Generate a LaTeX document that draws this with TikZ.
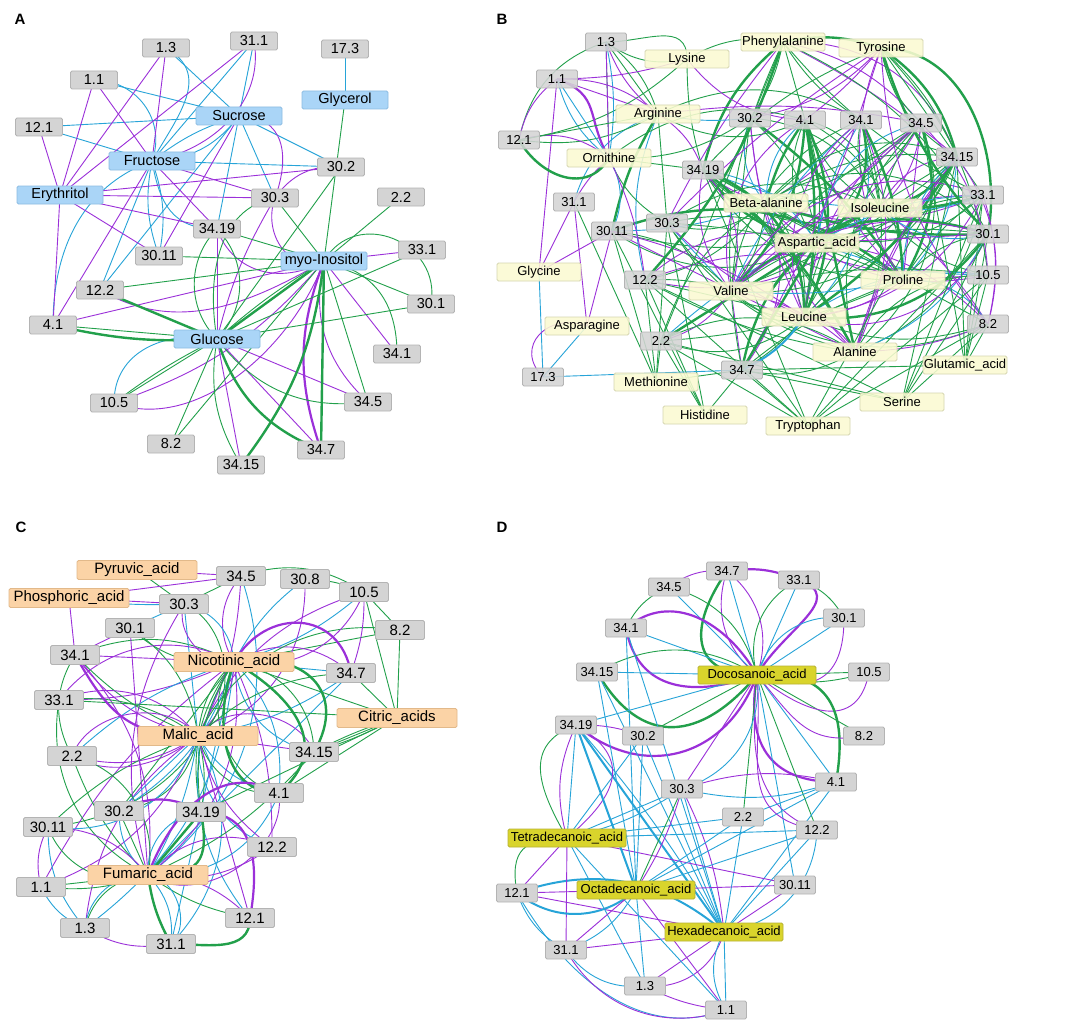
\documentclass[tikz,border=0pt]{standalone}
\usepackage{fontspec}
\setmainfont{Liberation Sans}
\pgfdeclarelayer{back}
\pgfdeclarelayer{bg}
\pgfsetlayers{back,bg,main}
\definecolor{cP}{HTML}{9B30D9}
\definecolor{cG}{HTML}{22A04B}
\definecolor{cB}{HTML}{27A4D8}
\definecolor{gF}{HTML}{D4D4D4}
\definecolor{gD}{HTML}{B4B4B4}
\definecolor{aF}{HTML}{AAD5F7}
\definecolor{aD}{HTML}{8DBDE3}
\definecolor{bF}{HTML}{FBFAD2}
\definecolor{bD}{HTML}{D6D6B0}
\definecolor{cF}{HTML}{FBD3A6}
\definecolor{cD}{HTML}{E2B98A}
\definecolor{dF}{HTML}{D9D42C}
\definecolor{dD}{HTML}{B7B234}
\tikzset{
 box/.style={rectangle, rounded corners=1.5pt, line width=0.8pt, inner sep=0pt, minimum height=18pt, text=black},
 numA/.style={box, fill=gF, draw=gD, minimum width=47pt, font=\fontsize{14.5}{16}\selectfont},
 molA/.style={box, fill=aF, draw=aD, minimum width=86pt, font=\fontsize{14.5}{16}\selectfont},
 numB/.style={box, fill=gF, draw=gD, fill opacity=0.88, text opacity=1, minimum width=41pt, font=\fontsize{13}{14}\selectfont},
 molB/.style={box, fill=bF, draw=bD, fill opacity=0.88, text opacity=1, minimum width=84pt, font=\fontsize{13}{14}\selectfont},
 numC/.style={box, fill=gF, draw=gD, minimum width=49pt, minimum height=19pt, font=\fontsize{15}{17}\selectfont},
 molC/.style={box, fill=cF, draw=cD, minimum width=120pt, minimum height=19pt, font=\fontsize{15}{17}\selectfont},
 numD/.style={box, fill=gF, draw=gD, minimum width=41pt, font=\fontsize{13}{14}\selectfont},
 molD/.style={box, fill=dF, draw=dD, minimum width=118pt, font=\fontsize{13}{14}\selectfont},
 plabel/.style={font=\bfseries\fontsize{15}{17}\selectfont, inner sep=0pt},
 eg/.style={draw=cG, line width=0.9pt},
 ep/.style={draw=cP, line width=0.9pt},
 eb/.style={draw=cB, line width=0.9pt},
 egt/.style={draw=cG, line width=2.4pt},
 ept/.style={draw=cP, line width=2.2pt},
 ebt/.style={draw=cB, line width=2pt},
 e0/.style={eg}, e1/.style={ep}, e2/.style={eb}, e3/.style={egt}, e4/.style={ept}, e5/.style={ebt},
}
\newcommand\edg[4]{\draw[#3] (#1.center) to[#4] (#2.center);}
\newcommand\edgk[4]{\edef\tmpcmd{\noexpand\draw[e#3] (#1.center) to[bend left=#4] (#2.center);}\tmpcmd}
\newcommand\fan[5]{\foreach \n [count=\i] in {#2}{\pgfmathtruncatemacro\cc{#4[mod(\i*3+#3,8)]}\pgfmathtruncatemacro\bb{(mod(\i*5+#3,7)-3)*#5}\edgk{#1}{\n}{\cc}{\bb}}}
\begin{document}
\begin{tikzpicture}[x=1pt,y=1pt]
\useasboundingbox (0,0) rectangle (1084,-1022);
\begin{pgfonlayer}{back}\fill[white] (0,0) rectangle (1084,-1022);\end{pgfonlayer}
% ---------------- Panel A ----------------
\node[plabel] (labA) at (20,-19) {A};
\node[numA] (a13) at (166,-48) {1.3};
\node[numA] (a311) at (254,-41) {31.1};
\node[numA] (a173) at (345,-49) {17.3};
\node[numA] (a11) at (94,-80) {1.1};
\node[molA] (aGly) at (345,-100) {Glycerol};
\node[molA] (aSuc) at (239,-116) {Sucrose};
\node[numA] (a121) at (39,-127) {12.1};
\node[molA] (aFru) at (152,-161) {Fructose};
\node[numA] (a302) at (341,-167) {30.2};
\node[molA] (aEry) at (60,-195) {Erythritol};
\node[numA] (a303) at (275,-198) {30.3};
\node[numA] (a22) at (401,-197) {2.2};
\node[numA] (a3419) at (217,-229) {34.19};
\node[numA] (a3011) at (159,-256) {30.11};
\node[molA] (aIno) at (324,-261) {myo-Inositol};
\node[numA] (a331) at (422,-250) {33.1};
\node[numA] (a122) at (100,-290) {12.2};
\node[numA] (a301) at (431,-304) {30.1};
\node[numA] (a41) at (53,-325) {4.1};
\node[molA] (aGlc) at (217,-339) {Glucose};
\node[numA] (a341) at (397,-354) {34.1};
\node[numA] (a105) at (114,-403) {10.5};
\node[numA] (a345) at (368,-402) {34.5};
\node[numA] (a82) at (171,-444) {8.2};
\node[numA] (a347) at (321,-450) {34.7};
\node[numA] (a3415) at (241,-465) {34.15};
\begin{pgfonlayer}{bg}
\edg{a11}{aSuc}{eb}{}
\edg{a11}{aFru}{eb}{out=0,in=70,looseness=1.1}
\edg{a13}{aSuc}{eb}{}
\edg{a13}{aFru}{eb}{out=-30,in=60,looseness=1.2}
\edg{a121}{aSuc}{eb}{}
\edg{a121}{aFru}{eb}{}
\edg{a311}{aSuc}{eb}{}
\edg{a311}{aFru}{eb}{}
\edg{aSuc}{aFru}{eb}{bend left=25}
\edg{aSuc}{aFru}{eb}{bend right=10}
\edg{aSuc}{a302}{eb}{}
\edg{aSuc}{a303}{eb}{}
\edg{aSuc}{a3419}{eb}{}
\edg{aSuc}{a122}{eb}{}
\edg{aFru}{a302}{eb}{}
\edg{aFru}{a3011}{eb}{bend left=15}
\edg{aFru}{a3011}{eb}{bend right=15}
\edg{aFru}{a122}{eb}{}
\edg{aFru}{a41}{eb}{out=200,in=90,looseness=1}
\edg{aFru}{a3419}{eb}{out=-80,in=180,looseness=1.2}
\edg{a105}{aGlc}{eb}{out=90,in=170,looseness=1.1}
\edg{a173}{aGly}{eb}{}
\edg{a121}{aEry}{ep}{}
\edg{a11}{aEry}{ep}{}
\edg{a11}{aFru}{ep}{}
\edg{a13}{aEry}{ep}{}
\edg{a13}{aFru}{ep}{}
\edg{a311}{aEry}{ep}{}
\edg{a311}{aFru}{ep}{out=-80,in=10,looseness=1}
\edg{aSuc}{a303}{ep}{out=0,in=70,looseness=1.3}
\edg{aSuc}{a3011}{ep}{}
\edg{aFru}{a41}{ep}{}
\edg{aEry}{a302}{ep}{}
\edg{aEry}{a303}{ep}{}
\edg{aEry}{a3419}{ep}{}
\edg{aEry}{a3011}{ep}{}
\edg{aEry}{a41}{ep}{}
\edg{aFru}{a303}{ep}{}
\edg{aFru}{a3419}{ep}{}
\edg{a302}{a303}{ep}{bend right=30}
\edg{a303}{aGlc}{ep}{bend right=8}
\edg{a303}{aIno}{ep}{out=-110,in=200,looseness=1.2}
\edg{a3419}{aGlc}{ep}{}
\edg{a3419}{aIno}{ep}{out=-70,in=210,looseness=1.1}
\edg{a331}{aIno}{ep}{}
\edg{a122}{aIno}{ep}{out=-30,in=210,looseness=1}
\edg{a41}{aIno}{ep}{}
\edg{a105}{aIno}{ep}{bend right=15}
\edg{a105}{aIno}{ep}{out=-20,in=250,looseness=0.9}
\edg{aGlc}{a345}{ep}{}
\edg{aGlc}{a347}{ep}{}
\edg{aGlc}{a3415}{ep}{}
\edg{aIno}{a341}{ep}{}
\edg{aIno}{a347}{ept}{bend right=20}
\edg{aIno}{a3415}{ep}{bend left=15}
\edg{aIno}{a345}{ep}{bend right=30}
\edg{aGly}{aIno}{eg}{}
\edg{a302}{aGlc}{eg}{}
\edg{a303}{aGlc}{eg}{out=190,in=100,looseness=1}
\edg{a303}{aIno}{eg}{}
\edg{a3419}{aIno}{eg}{}
\edg{a3011}{aIno}{eg}{}
\edg{a122}{aIno}{eg}{}
\edg{a122}{aGlc}{egt}{}
\edg{a41}{aGlc}{eg}{}
\edg{a41}{aGlc}{egt}{bend right=8}
\edg{a3419}{aGlc}{eg}{bend right=45}
\edg{a3419}{aGlc}{eg}{bend left=45}
\edg{a22}{aIno}{eg}{}
\edg{aIno}{a301}{eg}{out=60,in=80,looseness=1.4}
\edg{a331}{aGlc}{eg}{}
\edg{a301}{aGlc}{eg}{}
\edg{aIno}{a341}{eg}{out=-10,in=90,looseness=1.1}
\edg{aIno}{a301}{eg}{}
\edg{a105}{aGlc}{eg}{}
\edg{a105}{aGlc}{eg}{bend left=5}
\edg{a82}{aGlc}{eg}{}
\edg{a82}{aIno}{eg}{}
\edg{a3415}{aIno}{egt}{bend right=15}
\edg{a347}{aIno}{egt}{}
\edg{a347}{aGlc}{egt}{bend left=25}
\edg{a345}{aIno}{eg}{}
\edg{a345}{aGlc}{eg}{bend left=30}
\edg{aGlc}{aIno}{egt}{}
\edg{aGlc}{aIno}{eg}{bend left=5}
\edg{a3415}{aGlc}{eg}{bend left=20}
\end{pgfonlayer}
% ---------------- Panel B ----------------
\node[plabel] (labB) at (502,-19) {B};
\node[numB] (b13) at (606,-42) {1.3};
\node[numB] (b11) at (557,-79) {1.1};
\node[numB] (b121) at (519,-140) {12.1};
\node[numB] (b302) at (750,-118) {30.2};
\node[numB] (b41) at (805,-120) {4.1};
\node[numB] (b341) at (861,-120) {34.1};
\node[numB] (b345) at (921,-123) {34.5};
\node[numB] (b3415) at (957,-157) {34.15};
\node[numB] (b3419) at (703,-170) {34.19};
\node[numB] (b311) at (574,-202) {31.1};
\node[numB] (b331) at (983,-195) {33.1};
\node[numB] (b303) at (667,-223) {30.3};
\node[numB] (b3011) at (612,-231) {30.11};
\node[numB] (b301) at (988,-234) {30.1};
\node[numB] (b105) at (988,-275) {10.5};
\node[numB] (b122) at (645,-280) {12.2};
\node[numB] (b82) at (988,-324) {8.2};
\node[numB] (b22) at (661,-341) {2.2};
\node[numB] (b173) at (543,-377) {17.3};
\node[numB] (b347) at (742,-370) {34.7};
\node[molB] (bPhe) at (783,-42) {Phenylalanine};
\node[molB] (bTyr) at (881,-48) {Tyrosine};
\node[molB] (bLys) at (687,-59) {Lysine};
\node[molB] (bArg) at (658,-114) {Arginine};
\node[molB] (bOrn) at (609,-158) {Ornithine};
\node[molB] (bBal) at (766,-203) {Beta-alanine};
\node[molB] (bIle) at (880,-208) {Isoleucine};
\node[molB] (bAsp) at (817,-243) {Aspartic\_acid};
\node[molB] (bGlyc) at (539,-272) {Glycine};
\node[molB] (bPro) at (903,-280) {Proline};
\node[molB] (bVal) at (731,-291) {Valine};
\node[molB] (bLeu) at (804,-317) {Leucine};
\node[molB] (bAsn) at (587,-326) {Asparagine};
\node[molB] (bAla) at (855,-352) {Alanine};
\node[molB] (bGlu) at (965,-365) {Glutamic\_acid};
\node[molB] (bMet) at (656,-382) {Methionine};
\node[molB] (bSer) at (902,-402) {Serine};
\node[molB] (bHis) at (705,-415) {Histidine};
\node[molB] (bTrp) at (808,-426) {Tryptophan};
\begin{pgfonlayer}{bg}
\fan{bBal}{b302,b41,b341,b345,b3415,b3419,b331,b303,b3011,b301,b105,b122,b82,b22,b347}{1}{{0,0,1,0,2,0,1,3}}{10}
\fan{bIle}{b302,b41,b341,b345,b3415,b3419,b331,b303,b3011,b301,b105,b122,b82,b22,b347}{2}{{0,1,0,0,2,0,1,3}}{10}
\fan{bAsp}{b302,b41,b341,b345,b3415,b3419,b331,b303,b3011,b301,b105,b122,b82,b22,b347}{3}{{0,0,1,0,2,3,0,1}}{10}
\fan{bPro}{b302,b41,b341,b345,b3415,b3419,b331,b303,b3011,b301,b105,b122,b82,b22,b347}{4}{{1,0,0,2,0,1,0,3}}{10}
\fan{bVal}{b302,b41,b341,b345,b3415,b3419,b331,b303,b3011,b301,b105,b122,b82,b22,b347}{5}{{0,0,1,3,0,2,0,1}}{10}
\fan{bLeu}{b302,b41,b341,b345,b3415,b3419,b331,b303,b3011,b301,b105,b122,b82,b22,b347}{6}{{0,1,0,0,3,0,1,2}}{10}
\fan{bAla}{b302,b41,b341,b345,b3415,b3419,b331,b303,b3011,b301,b105,b122,b82,b22,b347}{7}{{0,0,1,0,0,2,1,0}}{10}
\fan{b41}{bBal,bIle,bAsp,bPro,bVal,bLeu,bAla}{3}{{3,0,1,0,0,3,2,1}}{12}
\fan{b341}{bBal,bIle,bAsp,bPro,bVal,bLeu,bAla}{5}{{0,3,1,0,2,0,3,1}}{12}
\fan{b345}{bBal,bIle,bAsp,bPro,bVal,bLeu,bAla}{6}{{1,0,3,0,0,1,3,2}}{12}
\fan{b3415}{bBal,bIle,bAsp,bPro,bVal,bLeu,bAla,bPhe,bTyr}{2}{{3,0,1,0,3,0,2,1}}{12}
\fan{b3419}{bBal,bIle,bAsp,bPro,bVal,bLeu,bAla}{4}{{0,3,0,1,0,2,3,1}}{12}
\fan{b331}{bBal,bIle,bAsp,bVal,bLeu}{1}{{1,0,2,1,0,1,0,2}}{14}
\fan{b301}{bBal,bIle,bAsp,bVal,bLeu}{2}{{2,1,0,1,2,0,1,0}}{14}
\fan{bPhe}{b3419,b302,b41,b341,b345,b3415,b303,b347,b122,b22,b331,b301}{2}{{0,1,0,0,1,3,0,1}}{6}
\fan{bTyr}{b3419,b302,b41,b341,b345,b3415,b331,b301,b105,b347,b303,b82}{3}{{0,1,0,3,1,0,0,1}}{6}
\fan{bArg}{b302,b41,b3419,b303,b122,b341,b345,b3011,b311,b121,b11,b13}{4}{{0,1,0,2,3,1,0,2}}{9}
\fan{bOrn}{b3419,b303,b3011,b122,b311,b121,b11,b13,b302,b41}{5}{{0,1,2,0,1,0,2,1}}{9}
\fan{bLys}{b13,b11,b3419,b41,b121}{1}{{0,1,0,1,0,1,0,1}}{8}
\fan{bMet}{b3011,b311,b122,b303,b22,b347}{0}{{0,0,0,0,0,0,0,0}}{0}
\fan{bHis}{b22,b122,b347,b303,b3011}{0}{{0,0,0,0,0,0,0,0}}{0}
\fan{bTrp}{b347,b22,b122,b303,b105,b82,b301,b3415,b3419}{0}{{0,0,0,0,0,0,0,0}}{0}
\fan{bSer}{b105,b82,b301,b331,b3415,b347,b22,b122}{0}{{0,0,0,0,0,0,0,0}}{0}
\fan{bGlu}{b82,b105,b301,b331,b3415,b347,b345}{0}{{0,0,0,0,0,0,0,0}}{0}
\fan{bVal}{bBal,bIle,bAsp,bPro,bLeu,bAla}{3}{{0,1,0,3,0,1,0,2}}{8}
\fan{bLeu}{bBal,bIle,bAsp,bPro,bAla}{2}{{0,1,3,0,2,0,1,0}}{8}
\edg{b13}{bArg}{eg}{}
\edg{b13}{bArg}{ep}{bend right=15}
\edg{b13}{bOrn}{ep}{}
\edg{b13}{bOrn}{eb}{bend left=10}
\edg{b13}{bLys}{eg}{out=0,in=90,looseness=1.2}
\edg{b13}{b121}{eg}{bend right=30}
\edg{b11}{b121}{ep}{bend right=20}
\edg{b11}{bArg}{ep}{bend left=20}
\edg{b11}{bOrn}{ept}{out=-20,in=120,looseness=1.3}
\edg{b11}{bOrn}{eb}{}
\edg{b11}{bGlyc}{ep}{}
\edg{b121}{bOrn}{egt}{out=-60,in=-120,looseness=1.2}
\edg{b121}{bArg}{eg}{}
\edg{b311}{bGlyc}{ep}{}
\edg{b311}{bAsn}{ep}{}
\edg{b3011}{bGlyc}{ep}{}
\edg{b3011}{bAsn}{ep}{}
\edg{b173}{bGlyc}{eb}{}
\edg{b173}{bAsn}{eb}{}
\edg{b173}{bAsn}{ep}{out=135,in=160,looseness=1.6}
\edg{b173}{b347}{eb}{}
\edg{bPhe}{bTyr}{egt}{bend left=15}
\edg{bTyr}{b301}{egt}{out=0,in=80,looseness=1.0}
\edg{bTyr}{b3415}{egt}{bend left=20}
\edg{bPhe}{bLys}{eg}{bend right=20}
\edg{b347}{bLeu}{ebt}{bend right=15}
\edg{b347}{bAsp}{egt}{}
\edg{b3415}{b82}{ep}{bend left=25}
\edg{b345}{b105}{ep}{bend left=20}
\edg{b331}{b82}{ep}{bend left=15}
\end{pgfonlayer}
% ---------------- Panel C ----------------
\node[plabel] (labC) at (21,-527) {C};
\node[numC] (c345) at (241,-576) {34.5};
\node[numC] (c308) at (305,-579) {30.8};
\node[numC] (c105) at (364,-592) {10.5};
\node[numC] (c303) at (184,-604) {30.3};
\node[numC] (c301) at (130,-628) {30.1};
\node[numC] (c82) at (400,-630) {8.2};
\node[numC] (c341) at (75,-655) {34.1};
\node[numC] (c347) at (351,-673) {34.7};
\node[numC] (c331) at (59,-700) {33.1};
\node[numC] (c22) at (72,-756) {2.2};
\node[numC] (c3415) at (314,-752) {34.15};
\node[numC] (c41) at (279,-793) {4.1};
\node[numC] (c302) at (119,-811) {30.2};
\node[numC] (c3419) at (201,-812) {34.19};
\node[numC] (c3011) at (48,-827) {30.11};
\node[numC] (c122) at (272,-847) {12.2};
\node[numC] (c11) at (41,-887) {1.1};
\node[numC] (c121) at (250,-918) {12.1};
\node[numC] (c13) at (85,-928) {1.3};
\node[numC] (c311) at (171,-944) {31.1};
\node[molC] (cPyr) at (137,-570) {Pyruvic\_acid};
\node[molC] (cPho) at (69,-598) {Phosphoric\_acid};
\node[molC] (cNic) at (234,-662) {Nicotinic\_acid};
\node[molC] (cCit) at (397,-718) {Citric\_acids};
\node[molC] (cMal) at (198,-736) {Malic\_acid};
\node[molC] (cFum) at (148,-875) {Fumaric\_acid};
\begin{pgfonlayer}{bg}
\fan{cNic}{c345,c308,c105,c303,c301,c82,c341,c347,c331,c22,c3415,c41,c302,c3419,c3011,c122,c11,c121,c13,c311}{1}{{0,1,2,0,1,2,0,2}}{12}
\fan{cMal}{c345,c308,c105,c303,c301,c82,c341,c347,c331,c22,c3415,c41,c302,c3419,c3011,c122,c11,c121,c13,c311}{4}{{2,0,1,0,2,1,0,1}}{12}
\fan{cFum}{c345,c303,c301,c341,c331,c22,c3415,c41,c302,c3419,c3011,c122,c11,c121,c13,c311,c347}{2}{{1,0,2,1,0,2,1,0}}{12}
\fan{cNic}{c341,c331,c22,c302,c3419,c41,c3415,c347,c105,c303}{5}{{1,2,0,1,0,2,1,0}}{20}
\fan{cMal}{c341,c331,c22,c3011,c302,c41,c3415,c347,c122,c303}{6}{{0,1,2,1,0,2,0,1}}{20}
\fan{cFum}{c3011,c11,c13,c311,c121,c122,c41,c3419,c302,c22}{7}{{2,1,0,2,1,0,1,2}}{22}
\fan{cNic}{cMal,cFum}{3}{{0,1,2,0,1,2,0,2}}{10}
\edg{cMal}{cFum}{eb}{bend left=10}
\edg{cPyr}{c345}{ep}{}
\edg{cPyr}{c303}{eg}{}
\edg{cPho}{c345}{ep}{}
\edg{cPho}{c303}{ep}{}
\edg{cPho}{c303}{eb}{bend right=5}
\edg{cPho}{c341}{ep}{}
\edg{cCit}{c82}{eg}{}
\edg{cCit}{c105}{eg}{}
\edg{cCit}{c347}{eg}{}
\edg{cCit}{c3415}{eg}{}
\edg{cCit}{c3415}{eg}{bend left=5}
\edg{cCit}{c3415}{eg}{bend right=5}
\edg{cCit}{c41}{eg}{}
\edg{cCit}{c331}{eg}{}
\edg{cCit}{cNic}{eg}{}
\edg{cCit}{c3419}{eg}{}
\edg{cNic}{c347}{ept}{out=60,in=100,looseness=1.4}
\edg{cNic}{c3415}{egt}{out=10,in=60,looseness=1.5}
\edg{cNic}{c41}{egt}{out=-30,in=40,looseness=1.3}
\edg{cNic}{c41}{egt}{out=-110,in=180,looseness=1.1}
\edg{c341}{cMal}{ept}{out=-60,in=180,looseness=1.2}
\edg{c302}{c3419}{ept}{bend left=30}
\edg{cFum}{c41}{ept}{out=70,in=150,looseness=1.1}
\edg{cFum}{c3419}{egt}{}
\edg{cFum}{c311}{egt}{bend right=10}
\edg{cFum}{c3419}{egt}{out=0,in=-80,looseness=1.6}
\edg{c311}{c121}{egt}{out=0,in=-90,looseness=1.1}
\edg{c3419}{c121}{ept}{out=0,in=80,looseness=1.2}
\edg{c345}{c105}{eg}{bend left=25}
\edg{c308}{c105}{eg}{bend left=10}
\edg{c303}{c345}{eg}{}
\edg{c105}{c347}{ep}{bend left=10}
\edg{c105}{c82}{eg}{}
\edg{c301}{c341}{ep}{}
\edg{c303}{c301}{eb}{}
\edg{c11}{c13}{eb}{bend right=20}
\edg{c13}{c311}{ep}{bend right=20}
\edg{c11}{c3011}{ep}{bend left=20}
\edg{c13}{c3011}{eb}{bend left=20}
\edg{c341}{c22}{eg}{bend right=30}
\end{pgfonlayer}
% ---------------- Panel D ----------------
\node[plabel] (labD) at (502,-527) {D};
\node[numD] (d347) at (727,-571) {34.7};
\node[numD] (d345) at (669,-587) {34.5};
\node[numD] (d331) at (799,-580) {33.1};
\node[numD] (d301) at (844,-618) {30.1};
\node[numD] (d341) at (626,-628) {34.1};
\node[numD] (d3415) at (597,-672) {34.15};
\node[numD] (d105) at (869,-672) {10.5};
\node[numD] (d3419) at (576,-725) {34.19};
\node[numD] (d302) at (643,-736) {30.2};
\node[numD] (d82) at (864,-736) {8.2};
\node[numD] (d41) at (836,-782) {4.1};
\node[numD] (d303) at (682,-789) {30.3};
\node[numD] (d22) at (743,-817) {2.2};
\node[numD] (d122) at (817,-830) {12.2};
\node[numD] (d3011) at (795,-885) {30.11};
\node[numD] (d121) at (517,-893) {12.1};
\node[numD] (d311) at (566,-950) {31.1};
\node[numD] (d13) at (645,-986) {1.3};
\node[numD] (d11) at (726,-1010) {1.1};
\node[molD] (dDoc) at (757,-675) {Docosanoic\_acid};
\node[molD] (dTet) at (567,-838) {Tetradecanoic\_acid};
\node[molD] (dOct) at (636,-890) {Octadecanoic\_acid};
\node[molD] (dHex) at (724,-932) {Hexadecanoic\_acid};
\begin{pgfonlayer}{bg}
\edg{d347}{dDoc}{egt}{out=235,in=180,looseness=1.6}
\edg{d347}{dDoc}{eb}{}
\edg{d347}{dDoc}{ep}{bend left=35}
\edg{d347}{dDoc}{ep}{bend right=35}
\edg{d347}{d331}{ept}{bend left=15}
\edg{d331}{dDoc}{ept}{out=-20,in=60,looseness=1.3}
\edg{d347}{d345}{ep}{bend right=20}
\edg{d345}{dDoc}{eb}{}
\edg{d345}{dDoc}{eg}{bend left=30}
\edg{d345}{d341}{eg}{bend right=20}
\edg{d331}{dDoc}{eb}{}
\edg{d331}{dDoc}{eg}{bend right=40}
\edg{d331}{d301}{eg}{bend left=20}
\edg{d301}{dDoc}{eb}{}
\edg{d301}{dDoc}{eb}{bend right=40}
\edg{d301}{dDoc}{ep}{out=-90,in=-20,looseness=1.5}
\edg{d105}{dDoc}{eg}{}
\edg{d105}{dDoc}{eg}{bend left=15}
\edg{d82}{dDoc}{eg}{}
\edg{d105}{dDoc}{ep}{out=-100,in=-40,looseness=1.4}
\edg{dDoc}{d41}{egt}{out=5,in=80,looseness=1.4}
\edg{d41}{dDoc}{eb}{}
\edg{d41}{dDoc}{ept}{out=180,in=-100,looseness=1.3}
\edg{d122}{dDoc}{eg}{}
\edg{d122}{dDoc}{ep}{out=160,in=-95,looseness=1.1}
\edg{d341}{dDoc}{ept}{out=40,in=120,looseness=1.1}
\edg{d341}{dDoc}{ept}{out=-80,in=200,looseness=1.2}
\edg{d341}{dDoc}{eb}{}
\edg{d3415}{dDoc}{eb}{}
\edg{d3415}{dDoc}{egt}{out=-60,in=230,looseness=1.4}
\edg{d3415}{dDoc}{eg}{bend left=30}
\edg{d3419}{dDoc}{eb}{}
\edg{d3419}{dDoc}{ept}{out=-40,in=250,looseness=1.2}
\edg{d302}{dDoc}{eg}{}
\edg{d303}{dDoc}{ep}{}
\edg{d22}{dDoc}{eg}{}
\edg{d3011}{dDoc}{eb}{}
\edg{d303}{dDoc}{eb}{bend right=40}
\edg{d3419}{d302}{ep}{bend left=10}
\edg{d303}{d41}{ep}{bend left=15}
\edg{d303}{d41}{eb}{bend right=15}
\edg{d22}{d41}{eb}{}
\edg{d3419}{dHex}{ebt}{}
\edg{d3419}{dHex}{eb}{bend left=5}
\edg{d3415}{dHex}{eb}{}
\edg{d341}{dHex}{eb}{}
\edg{d302}{dHex}{eb}{}
\edg{d303}{dHex}{eb}{}
\edg{d303}{dHex}{ep}{bend left=10}
\edg{d22}{dHex}{eb}{}
\edg{d122}{dHex}{eb}{}
\edg{d41}{dHex}{eb}{}
\edg{d3011}{dHex}{ep}{}
\edg{d11}{dHex}{eb}{}
\edg{d13}{dHex}{ep}{}
\edg{d13}{dHex}{ep}{bend right=40}
\edg{d121}{dHex}{ep}{}
\edg{d121}{dHex}{ebt}{bend left=30}
\edg{d311}{dHex}{ep}{}
\edg{d11}{dHex}{eb}{bend left=30}
\edg{d122}{dHex}{eb}{bend left=40}
\edg{d3419}{dTet}{eb}{}
\edg{d3419}{dTet}{ep}{bend right=20}
\edg{d3419}{dTet}{eg}{out=200,in=120,looseness=1.3}
\edg{d302}{dTet}{eb}{}
\edg{d303}{dTet}{eb}{}
\edg{d303}{dTet}{eb}{bend left=10}
\edg{d22}{dTet}{eb}{}
\edg{d122}{dTet}{eb}{}
\edg{d3011}{dTet}{ep}{}
\edg{d121}{dTet}{ep}{}
\edg{d121}{dTet}{eg}{out=100,in=180,looseness=1.5}
\edg{d311}{dTet}{ep}{}
\edg{d3419}{dTet}{ep}{out=-30,in=40,looseness=1.5}
\edg{d13}{dTet}{eb}{}
\edg{d11}{dTet}{eb}{}
\edg{d3419}{dOct}{ebt}{}
\edg{d302}{dOct}{eb}{}
\edg{d303}{dOct}{eg}{}
\edg{d303}{dOct}{ep}{bend left=8}
\edg{d22}{dOct}{eb}{}
\edg{d122}{dOct}{eb}{}
\edg{d3011}{dOct}{ep}{}
\edg{d121}{dOct}{ep}{}
\edg{d121}{dOct}{ebt}{bend right=40}
\edg{d311}{dOct}{ep}{}
\edg{d311}{dOct}{eb}{bend right=20}
\edg{d13}{dOct}{eb}{}
\edg{d11}{dOct}{ep}{}
\edg{d3415}{dOct}{eb}{}
\edg{d41}{dOct}{eb}{}
\edg{d341}{dOct}{eb}{}
\edg{d121}{d311}{eb}{bend right=20}
\edg{d311}{d13}{eb}{bend right=30}
\edg{d121}{d11}{eb}{out=-60,in=200}
\edg{d13}{d11}{ep}{bend right=10}
\edg{d311}{d11}{ep}{bend right=40}
\edg{dDoc}{d82}{ep}{out=-50,in=190,looseness=1.2}
\edg{dDoc}{d122}{ep}{out=-85,in=170,looseness=1.3}
\end{pgfonlayer}
\end{tikzpicture}
\end{document}
